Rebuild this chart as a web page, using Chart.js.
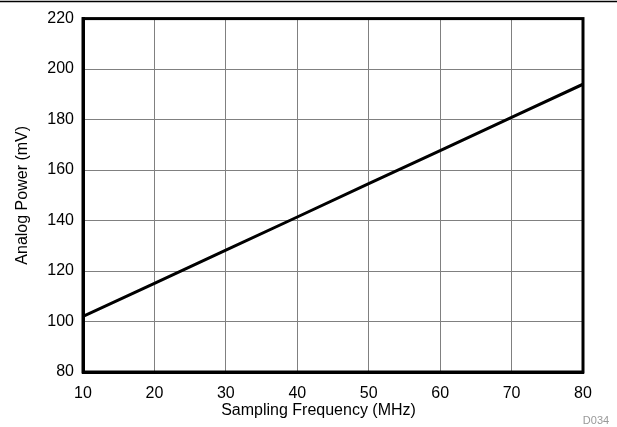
<!DOCTYPE html>
<html>
<head>
<meta charset="utf-8">
<script src="https://cdn.jsdelivr.net/npm/chart.js@4/dist/chart.umd.min.js"></script>
<style>
  html, body { margin: 0; padding: 0; background: #fff; }
  #wrap { width: 617px; height: 427px; position: relative; }
</style>
</head>
<body>
<div id="wrap"><canvas id="chart" width="617" height="427"></canvas></div>
<script>
const freqMHz = [10, 20, 30, 40, 50, 60, 70, 80];
const powerMv = [102, 115.1, 128.3, 141.4, 154.6, 167.7, 180.9, 194];
const xTicks = [10, 20, 30, 40, 50, 60, 70, 80];
const yTicks = [80, 100, 120, 140, 160, 180, 200, 220];
const xTitle = 'Sampling Frequency (MHz)';
const yTitle = 'Analog Power (mV)';

const font = { family: "'Liberation Sans', Arial, sans-serif", size: 16 };

// top rule, x title (sits a bit left of centre in the original) and "D034" tag
const extras = {
  id: 'extras',
  afterDraw(chart) {
    const ctx = chart.ctx;
    ctx.save();
    ctx.strokeStyle = '#000';
    ctx.lineWidth = 1.5;
    ctx.beginPath();
    ctx.moveTo(0, 1.5);
    ctx.lineTo(chart.width, 1.5);
    ctx.stroke();

    ctx.fillStyle = '#000';
    ctx.font = "16px 'Liberation Sans', Arial, sans-serif";
    ctx.textAlign = 'center';
    ctx.textBaseline = 'middle';
    ctx.fillText(xTitle, 318.5, 411);

    ctx.fillStyle = '#999';
    ctx.font = "11px 'Liberation Sans', Arial, sans-serif";
    ctx.fillText('D034', 596, 421);
    ctx.restore();
  }
};

new Chart(document.getElementById('chart').getContext('2d'), {
  type: 'scatter',
  data: {
    datasets: [{
      data: freqMHz.map((x, i) => ({ x: x, y: powerMv[i] })),
      showLine: true,
      borderColor: '#000',
      borderWidth: 3,
      pointRadius: 0,
      tension: 0
    }]
  },
  options: {
    responsive: false,
    animation: false,
    layout: { padding: { top: 17, right: 34, left: 0, bottom: 0 } },
    plugins: { legend: { display: false }, tooltip: { enabled: false } },
    scales: {
      x: {
        type: 'linear',
        min: 10,
        max: 80,
        afterBuildTicks: (s) => { s.ticks = xTicks.map(v => ({ value: v })); },
        afterFit: (s) => { s.height = 427 - 372; },
        ticks: { color: '#000', font: font, padding: 12, maxRotation: 0 },
        grid: { color: '#808080', lineWidth: 1, drawTicks: false },
        border: { color: '#000', width: 3 }
      },
      y: {
        min: 80,
        max: 220,
        afterBuildTicks: (s) => { s.ticks = yTicks.map(v => ({ value: v })); },
        afterFit: (s) => { s.width = 83; },
        ticks: { color: '#000', font: font, padding: 9 },
        grid: { color: '#808080', lineWidth: 1, drawTicks: false },
        border: { color: '#000', width: 3 },
        title: {
          display: true,
          text: yTitle,
          color: '#000',
          font: Object.assign({ lineHeight: 1.2 }, font),
          padding: { top: 13, bottom: 0 }
        }
      }
    }
  },
  plugins: [extras, {
    id: 'frame',
    afterDatasetsDraw(chart) {
      const a = chart.chartArea, ctx = chart.ctx;
      ctx.save();
      ctx.strokeStyle = '#000';
      ctx.lineWidth = 3;
      ctx.strokeRect(a.left, a.top, a.right - a.left, a.bottom - a.top);
      ctx.restore();
    }
  }]
});
</script>
</body>
</html>
